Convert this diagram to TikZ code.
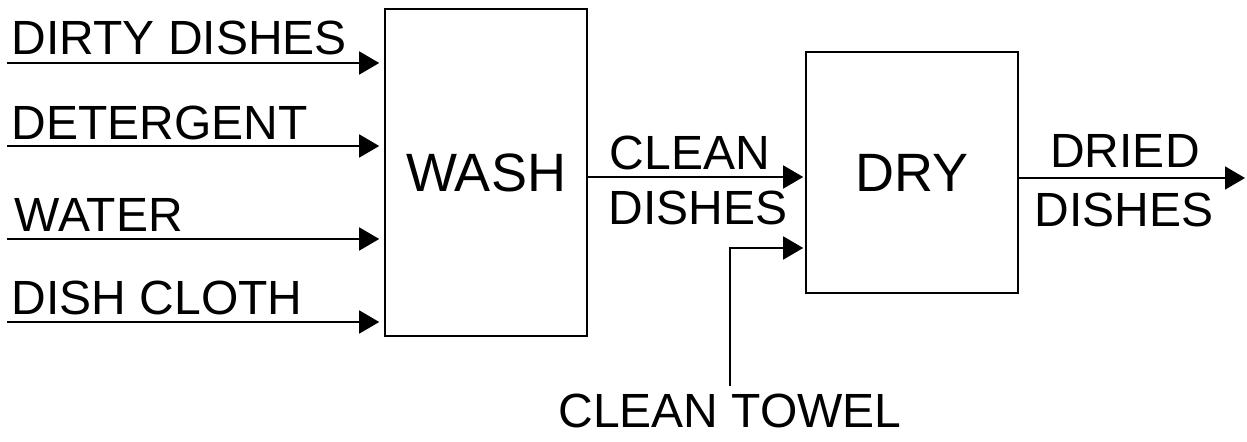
\documentclass[tikz,border=0pt]{standalone}
\usepackage{fontspec}
\setmainfont{Liberation Sans}
\usetikzlibrary{positioning, arrows.meta}
\newcommand{\lblsize}{\fontsize{24}{28}\selectfont}
\newcommand{\procsize}{\fontsize{27}{32}\selectfont}

\begin{document}
\begin{tikzpicture}[x=0.5pt, y=-0.5pt, line width=0.8pt,
  proc/.style={draw, inner sep=0, font=\procsize},
  lbl/.style={inner sep=0, font=\lblsize},
  flow/.style={-{Triangle[length=10pt, width=11.5pt]}}]
\useasboundingbox (0,0) rectangle (1247,442);
\node[proc, minimum width=101pt, minimum height=163.5pt] (wash) at (486,172.5) {WASH};
\node[proc, minimum width=106pt, minimum height=120.5pt] (dry) at (912,172.5) {DRY};
% inputs of wash
\coordinate (dirty) at (7,63);
\coordinate (soap) at (7,146);
\coordinate (water) at (7,239);
\coordinate (cloth) at (7,322);
\node[lbl, anchor=base west] (dirty_l) at (11,55) {DIRTY DISHES};
\node[lbl, anchor=base west] (soap_l) at (11,140) {DETERGENT};
\node[lbl, anchor=base west] (water_l) at (14,232) {WATER};
\node[lbl, anchor=base west] (cloth_l) at (11,315) {DISH CLOTH};
\draw[flow, shorten >=2.5pt] (dirty) -- (dirty -| wash.west);
\draw[flow, shorten >=2.5pt] (soap) -- (soap -| wash.west);
\draw[flow, shorten >=2.5pt] (water) -- (water -| wash.west);
\draw[flow, shorten >=2.5pt] (cloth) -- (cloth -| wash.west);
% wash to dry
\draw[flow, shorten >=1pt] ([yshift=-2.25pt]wash.east) -- ([yshift=-2.25pt]dry.west);
\node[lbl, anchor=base] (clean_l) at (690,170) {CLEAN};
\node[lbl, anchor=base] (dishes_l) at (698,225) {DISHES};
% towel
\coordinate (towel) at (730,386);
\draw[flow, shorten >=1pt] (towel) |- ([yshift=-37.75pt]dry.west);
\node[lbl, anchor=north, below=3.5pt of towel] (towel_l) {CLEAN TOWEL};
% output
\coordinate (out) at (1245,178);
\draw[flow] (dry.east |- out) -- (out);
\node[lbl, anchor=base] (dried_l) at (1125,168) {DRIED};
\node[lbl, anchor=base] (dishes2_l) at (1124,227) {DISHES};
\end{tikzpicture}
\end{document}
